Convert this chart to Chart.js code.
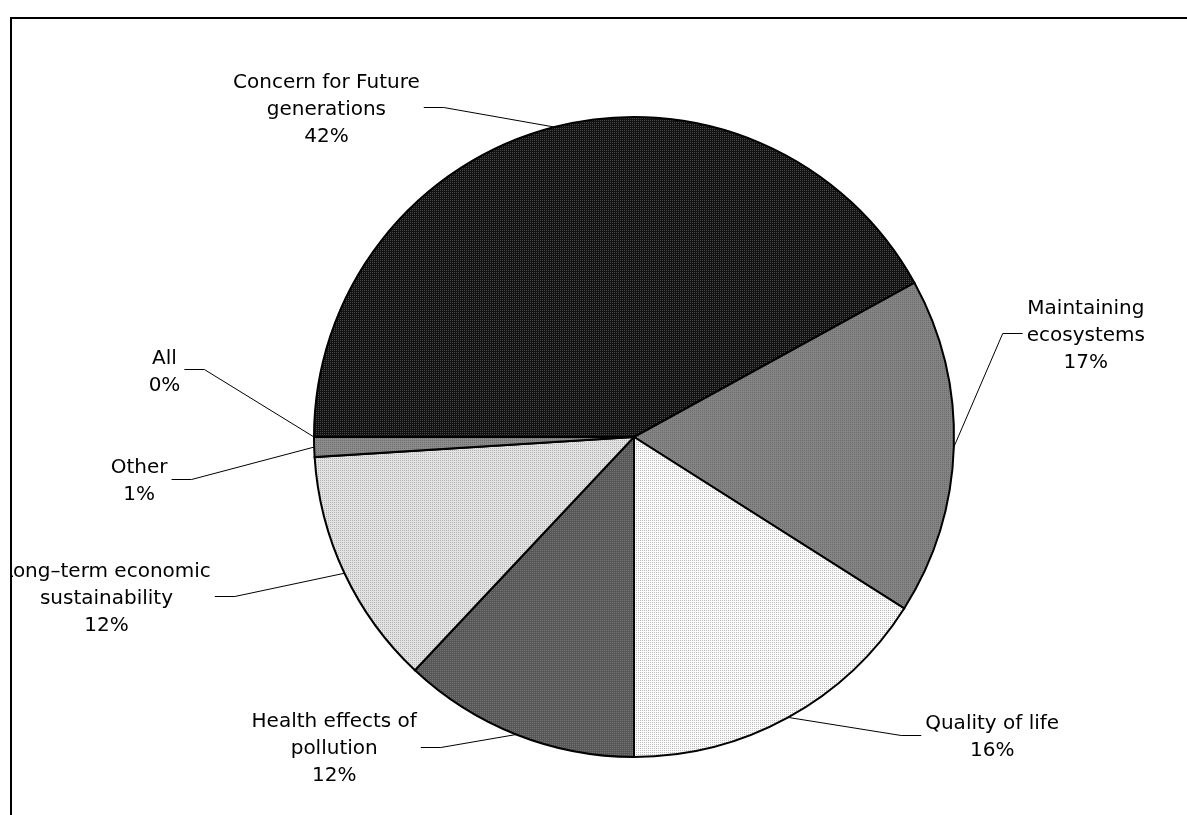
<!DOCTYPE html>
<html>
<head>
<meta charset="utf-8">
<title>Reasons for sustainability</title>
<script src="https://cdn.jsdelivr.net/npm/chart.js@4.4.1/dist/chart.umd.min.js"></script>
<style>
  html, body { margin: 0; padding: 0; background: #fff; }
  canvas { display: block; }
</style>
</head>
<body>
<canvas id="chart" width="1187" height="815"></canvas>
<script>
// Survey shares, in slice order (clockwise from 9 o'clock)
const categories = [
  'Concern for Future generations',
  'Maintaining ecosystems',
  'Quality of life',
  'Health effects of pollution',
  'Long–term economic sustainability',
  'Other',
  'All'
];
const shares = [42, 17, 16, 12, 12, 1, 0];

// How each category name is wrapped in its callout
const labelLines = [
  ['Concern for Future', 'generations'],
  ['Maintaining', 'ecosystems'],
  ['Quality of life'],
  ['Health effects of', 'pollution'],
  ['Long–term economic', 'sustainability'],
  ['Other'],
  ['All']
];

// Callout text-block centre, relative to the point where the leader meets the slice rim (px)
const labelOffsets = [
  [-228, -20],
  [132, -114],
  [204, 18],
  [-182, 12],
  [-238, 23],
  [-175, 31.5],
  [-149.5, -67.5]
];

const canvas = document.getElementById('chart');
const ctx = canvas.getContext('2d');

// Fine dotted fills for the slices
function dotted(base, dot) {
  const p = document.createElement('canvas');
  p.width = 2; p.height = 2;
  const g = p.getContext('2d');
  g.fillStyle = base; g.fillRect(0, 0, 2, 2);
  g.fillStyle = dot; g.fillRect(0, 0, 1, 1);
  return ctx.createPattern(p, 'repeat');
}

const fills = [
  dotted('#111111', '#4a4a4a'),
  dotted('#848484', '#6c6c6c'),
  dotted('#fbfbfb', '#bcbcbc'),
  dotted('#575757', '#767676'),
  dotted('#e3e3e3', '#b3b3b3'),
  dotted('#8c8c8c', '#6e6e6e'),
  dotted('#9a9a9a', '#808080')
];

const FONT = '20px "DejaVu Sans"';
const LINE_H = 27;

const framePlugin = {
  id: 'frame',
  beforeDraw(chart) {
    const c = chart.ctx;
    c.save();
    c.fillStyle = '#fff';
    c.fillRect(0, 0, chart.width, chart.height);
    c.restore();
  },
  afterDraw(chart) {
    const c = chart.ctx;
    c.save();
    c.strokeStyle = '#000';
    c.lineWidth = 2;
    c.strokeRect(11, 18, chart.width + 40, chart.height + 40);
    c.restore();
  }
};

const calloutPlugin = {
  id: 'callouts',
  afterDatasetsDraw(chart) {
    const c = chart.ctx;
    const meta = chart.getDatasetMeta(0);
    c.save();
    c.beginPath();
    c.rect(12, 19, chart.width, chart.height);
    c.clip();
    c.font = FONT;
    c.fillStyle = '#000';
    c.strokeStyle = '#000';
    c.lineWidth = 1;
    meta.data.forEach((arc, i) => {
      const p = arc.getProps(['x', 'y', 'startAngle', 'endAngle', 'outerRadius'], true);
      const mid = (p.startAngle + p.endAngle) / 2;
      const ex = p.x + Math.cos(mid) * p.outerRadius;
      const ey = p.y + Math.sin(mid) * p.outerRadius;
      const [dx, dy] = labelOffsets[i];
      const cx = ex + dx;
      const cy = ey + dy;
      const lines = [...labelLines[i], shares[i] + '%'];
      const w = Math.max(...lines.map(t => c.measureText(t).width));
      const side = dx < 0 ? 1 : -1;
      const ax = cx + side * (w / 2 + 4);
      const bx = ax + side * 20;
      const ly = Math.round(cy) + 0.5;
      c.beginPath();
      c.moveTo(ex, ey);
      c.lineTo(bx, ly);
      c.lineTo(ax, ly);
      c.stroke();
      c.textAlign = 'center';
      c.textBaseline = 'alphabetic';
      lines.forEach((t, k) => {
        c.fillText(t, cx, cy + (k - (lines.length - 1) / 2) * LINE_H + 7.5);
      });
    });
    c.restore();
  }
};

new Chart(ctx, {
  type: 'pie',
  data: {
    labels: categories,
    datasets: [{
      data: shares,
      backgroundColor: fills,
      borderColor: '#000',
      borderWidth: 2,
      borderJoinStyle: 'miter',
      offset: 0,
      hoverOffset: 0
    }]
  },
  options: {
    responsive: false,
    animation: false,
    events: [],
    rotation: -90,
    layout: { padding: { left: 313, right: 232, top: 116, bottom: 57 } },
    plugins: {
      legend: { display: false },
      tooltip: { enabled: false },
      title: { display: false }
    }
  },
  plugins: [framePlugin, calloutPlugin]
});
</script>
</body>
</html>
